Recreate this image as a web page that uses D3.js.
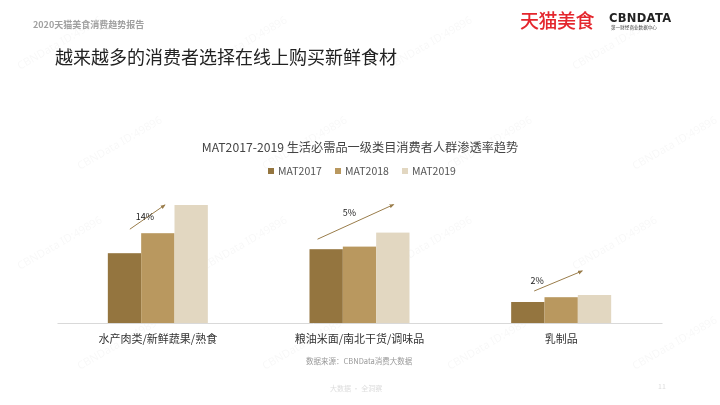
<!DOCTYPE html>
<html><head><meta charset="utf-8">
<script src="https://cdn.jsdelivr.net/npm/d3@7"></script>
<style>
html,body{margin:0;padding:0;background:#fff;}
svg{display:block;font-family:"Noto Sans CJK SC","Noto Sans",sans-serif;}
</style></head>
<body>
<svg id="chart" width="720" height="405"></svg>
<script>
const categories = ["水产肉类/新鲜蔬果/熟食", "粮油米面/南北干货/调味品", "乳制品"];
const seriesNames = ["MAT2017", "MAT2018", "MAT2019"];
const mat2017 = [34.9, 36.9, 10.5];
const mat2018 = [44.9, 38.2, 12.9];
const mat2019 = [59.0, 45.2, 14.0];
const growthLabels = ["14%", "5%", "2%"];
const colors = ["#94753f", "#b9985f", "#e2d7c1"];

const svg = d3.select("#chart");
const W = 720, H = 405;

// watermarks
const wm = svg.append("g").attr("fill", "#000").attr("opacity", 0.028)
  .attr("font-size", 11).attr("font-family", "Noto Sans, sans-serif");
for (let r = 0; r < 4; r++) {
  for (let c = 0; c < 4; c++) {
    const x = 20 + c * 185 + (r % 2) * 60, y = 70 + r * 100;
    wm.append("text").attr("transform", `translate(${x},${y}) rotate(-30)`).text("CBNData ID:49896");
  }
}

// header
svg.append("text").attr("x", 33).attr("y", 28).attr("font-size", 9).attr("font-weight", "bold")
  .attr("fill", "#a0a0a0").text("2020天猫美食消费趋势报告");
svg.append("text").attr("x", 55).attr("y", 64).attr("font-size", 18)
  .attr("fill", "#222").text("越来越多的消费者选择在线上购买新鲜食材");

// logos
svg.append("text").attr("x", 520).attr("y", 28).attr("font-size", 19).attr("font-weight", 500)
  .attr("fill", "#e4262d").attr("letter-spacing", -0.5).text("天猫美食");
svg.append("text").attr("x", 609).attr("y", 22).attr("font-size", 11.5).attr("font-weight", "bold")
  .attr("font-family", "DejaVu Sans, sans-serif").attr("fill", "#222").attr("letter-spacing", 0.3).text("CBNDATA");
svg.append("text").attr("x", 611).attr("y", 28.5).attr("font-size", 4.6)
  .attr("fill", "#444").text("第一财经商业数据中心");

// chart title
svg.append("text").attr("x", 360).attr("y", 152).attr("text-anchor", "middle").attr("font-size", 12.2)
  .attr("fill", "#444").text("MAT2017-2019 生活必需品一级类目消费者人群渗透率趋势");

// legend
const legendX = [268, 335, 402];
const lg = svg.append("g");
seriesNames.forEach((n, i) => {
  lg.append("rect").attr("x", legendX[i]).attr("y", 168).attr("width", 6).attr("height", 6).attr("fill", colors[i]);
  lg.append("text").attr("x", legendX[i] + 10).attr("y", 175).attr("font-size", 10.5).attr("fill", "#555").text(n);
});

// scales
const left = 57, right = 662, baseline = 323;
const x0 = d3.scaleBand().domain(categories).range([left, right]).paddingInner(0).paddingOuter(0);
const inner = d3.scaleBand().domain(seriesNames).range([0, 100]).padding(0);
const y = d3.scaleLinear().domain([0, 60]).range([baseline, baseline - 120]);

const data = categories.map((c, i) => ({cat: c, vals: [mat2017[i], mat2018[i], mat2019[i]]}));

const groups = svg.append("g").selectAll("g").data(data).join("g")
  .attr("transform", d => `translate(${x0(d.cat) + x0.bandwidth() / 2 - 50},0)`);
groups.selectAll("rect").data(d => d.vals.map((v, i) => ({v, s: seriesNames[i], i})))
  .join("rect")
  .attr("x", d => inner(d.s)).attr("width", inner.bandwidth())
  .attr("y", d => y(d.v)).attr("height", d => baseline - y(d.v))
  .attr("fill", d => colors[d.i]);

// axis
const xAxis = d3.axisBottom(x0).tickSize(0).tickPadding(12);
const ax = svg.append("g").attr("transform", `translate(0,${baseline})`).call(xAxis);
ax.select(".domain").attr("stroke", "#d9d9d9").attr("stroke-width", 1);
ax.selectAll("text").attr("font-size", 11).attr("fill", "#333")
  .attr("font-family", "Noto Sans CJK SC, sans-serif");

// growth arrows
const defs = svg.append("defs");
defs.append("marker").attr("id", "arr").attr("viewBox", "0 0 10 10").attr("refX", 8).attr("refY", 5)
  .attr("markerWidth", 5).attr("markerHeight", 5).attr("orient", "auto")
  .append("path").attr("d", "M0,1 L10,5 L0,9 Z").attr("fill", "#9a7d4b");

const arrowG = svg.append("g");
data.forEach((d, i) => {
  const gx = x0(d.cat) + x0.bandwidth() / 2 - 50;
  const sx = gx + (i === 0 ? 22 : 8 + (i === 2 ? 15 : 0));
  const ex = gx + (i === 0 ? 57 : (i === 1 ? 84 : 71));
  const sy = i === 0 ? y(d.vals[1]) - 4 : (i === 1 ? y(d.vals[0]) - 10 : y(d.vals[0]) - 11);
  const ey = i === 0 ? y(d.vals[2]) : (i === 1 ? y(d.vals[2]) - 28 : y(d.vals[2]) - 24);
  arrowG.append("line").attr("x1", sx).attr("y1", sy).attr("x2", ex).attr("y2", ey)
    .attr("stroke", "#9a7d4b").attr("stroke-width", 1).attr("marker-end", "url(#arr)");
  const lx = i === 0 ? gx + 37 : (i === 1 ? gx + 40 : gx + 26);
  const ly = i === 0 ? y(d.vals[1]) - 13 : (i === 1 ? y(d.vals[2]) - 17 : y(d.vals[2]) - 11);
  arrowG.append("text").attr("x", lx).attr("y", ly).attr("text-anchor", "middle")
    .attr("font-size", 9).attr("fill", "#222").text(growthLabels[i]);
});

// footer
svg.append("text").attr("x", 306).attr("y", 364).attr("font-size", 7.5).attr("fill", "#999")
  .text("数据来源：CBNData消费大数据");
svg.append("text").attr("x", 330).attr("y", 391).attr("font-size", 7).attr("fill", "#ddd")
  .text("大数据 · 全洞察");
svg.append("text").attr("x", 658).attr("y", 389).attr("font-size", 7).attr("fill", "#ddd").text("11");
</script>
</body></html>
